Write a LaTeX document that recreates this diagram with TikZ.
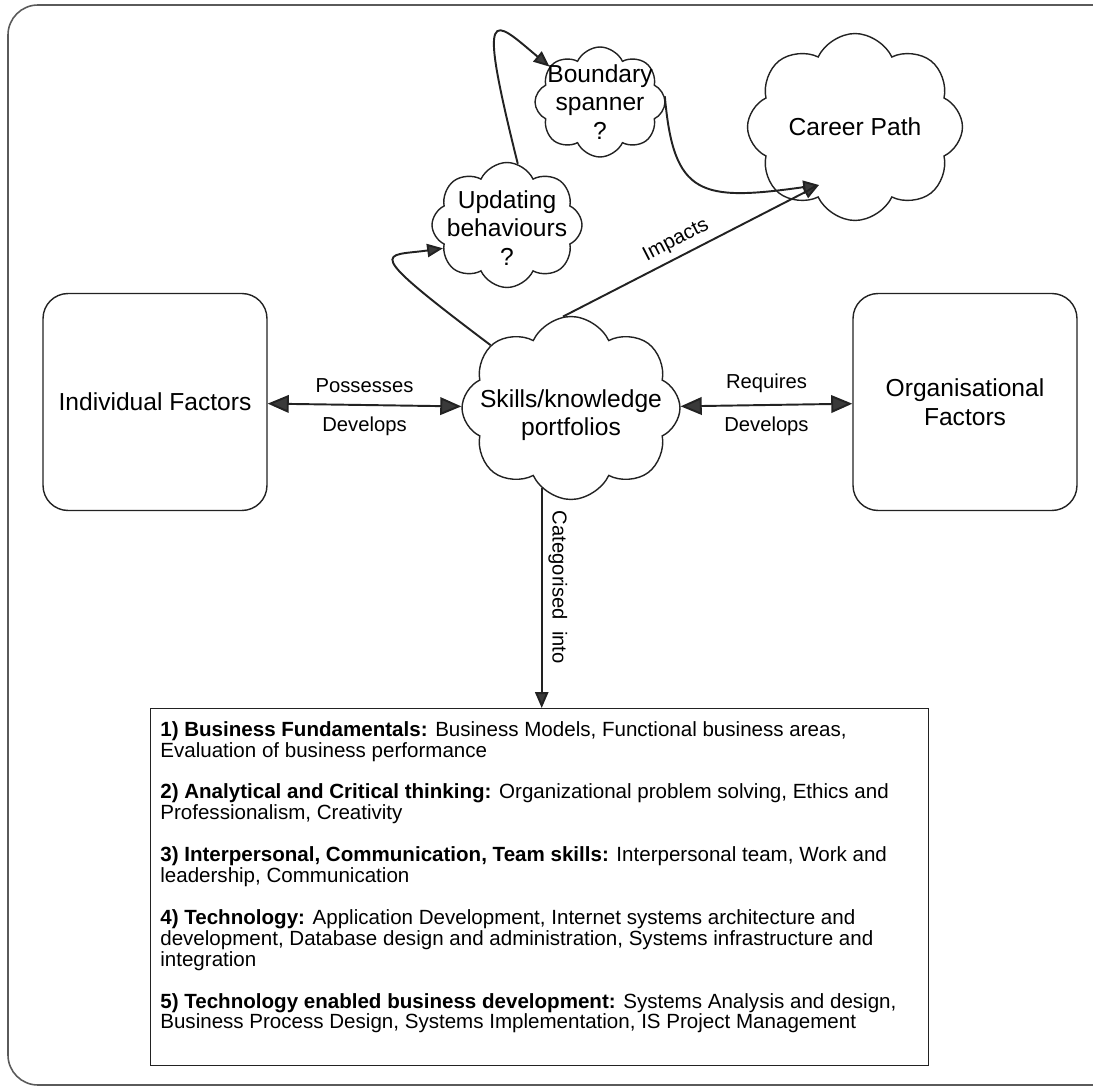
\documentclass[tikz,border=0pt]{standalone}
\usepackage{fontspec}
\setmainfont{Liberation Sans}
\usetikzlibrary{arrows.meta, positioning, shapes.symbols, calc}
\definecolor{ink}{HTML}{222222}
\definecolor{tipfill}{HTML}{3A3A3A}
\definecolor{frame}{HTML}{5A5A5A}

\tikzset{
  factor/.style={draw=ink, line width=0.8pt, rounded corners=0.5cm,
    minimum width=4.48cm, minimum height=4.34cm, align=center,
    font=\fontsize{14}{16.5}\selectfont},
  puff/.style={cloud, cloud puffs=8, cloud puff arc=130, draw=ink,
    line width=0.8pt, inner sep=0pt},
  cloudtxt/.style={align=center, font=\fontsize{14}{16}\selectfont},
  lbl/.style={font=\fontsize{11.5}{13}\selectfont},
  link/.style={draw=ink, line width=1.1pt,
    -{Triangle[length=9pt,width=7.5pt,fill=tipfill]}},
  both/.style={draw=ink, line width=1.1pt,
    {Triangle[length=12pt,width=10pt,fill=tipfill]}-{Triangle[length=12pt,width=10pt,fill=tipfill]}},
  boxtxt/.style={align=left, inner sep=0pt,
    font=\fontsize{11.7}{11.9}\selectfont},
}

\begin{document}
\begin{tikzpicture}[x=0.02cm, y=-0.02cm]
  \useasboundingbox (0,0) rectangle (1093,1087);

  % Outer frame
  \draw[frame, line width=0.9pt, rounded corners=0.6cm] (8,5) rectangle (1130,1085);

  % Factors
  \node[factor] (ind) at (155,402) {Individual Factors};
  \node[factor] (org) at (965,402) {Organisational\\Factors};

  % Clouds
  \node[puff, minimum width=4.36cm, minimum height=3.66cm,
    label={[cloudtxt, yshift=-0.14cm]center:{Skills/knowledge\\portfolios}}] (sk) at (571,408) {};
  \node[puff, minimum width=3.0cm, minimum height=2.5cm,
    label={[cloudtxt, yshift=-0.06cm]center:{Updating\\behaviours\\?}}] (upd) at (507,225) {};
  \node[puff, minimum width=2.6cm, minimum height=2.2cm,
    label={[cloudtxt]center:{Boundary\\spanner\\?}}] (bnd) at (600,102) {};
  \node[puff, minimum width=4.3cm, minimum height=3.74cm,
    label={[cloudtxt]center:{Career Path}}] (cp) at (855,127) {};
  \coordinate (cpin) at ([shift={(-36,58)}]cp.center);

  % Categories
  \node[draw=ink, line width=0.8pt, minimum width=15.56cm, minimum height=7.14cm,
    anchor=north west, inner sep=0pt] (cat) at (150,708) {};
  \node[boxtxt, anchor=north west] (catlist) at ([xshift=0.2cm, yshift=-0.26cm]cat.north west)
  {\textbf{1) Business Fundamentals:} Business Models, Functional business areas,\\
   Evaluation of business performance\\[11.9pt]
   \textbf{2) Analytical and Critical thinking:} Organizational problem solving, Ethics and\\
   Professionalism, Creativity\\[11.9pt]
   \textbf{3) Interpersonal, Communication, Team skills:} Interpersonal team, Work and\\
   leadership, Communication\\[11.9pt]
   \textbf{4) Technology:} Application Development, Internet systems architecture and\\
   development, Database design and administration, Systems infrastructure and\\
   integration\\[11.9pt]
   \textbf{5) Technology enabled business development:} Systems Analysis and design,\\
   Business Process Design, Systems Implementation, IS Project Management};

  % Connectors
  \draw[both] (ind) -- node[lbl, above=3pt] {Possesses} node[lbl, below=3pt] {Develops} (sk);
  \draw[both] (sk) -- node[lbl, above=3pt] {Requires} node[lbl, below=3pt] {Develops} (org);
  \draw[link] (sk.95) -- node[lbl, sloped, above, pos=0.47] {Impacts} (cpin);
  \draw[link] (sk.142) .. controls +(-143:165) and +(172:60) .. (upd.200);
  \draw[link] (upd.80) .. controls +(-104:170) and +(-140:75) .. (bnd.145);
  \draw[link] (bnd.5) .. controls +(85:100) and +(172:120) .. (cpin);
  \draw[link] (sk.250) -- node[lbl, rotate=-90, anchor=south, pos=0.45] {Categorised\ \ into}
    (sk.250 |- cat.north);
\end{tikzpicture}
\end{document}
